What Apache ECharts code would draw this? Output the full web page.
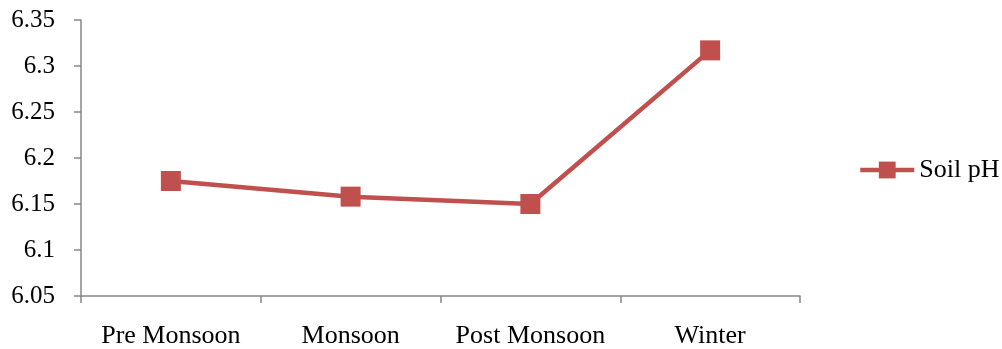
<!DOCTYPE html>
<html>
<head>
<meta charset="utf-8">
<script src="https://cdn.jsdelivr.net/npm/echarts@6/dist/echarts.min.js"></script>
<style>
  html, body { margin: 0; padding: 0; background: #fff; }
  #chart { width: 1002px; height: 349px; }
</style>
</head>
<body>
<div id="chart"></div>
<script>
// Seasonal soil pH
const categories = ['Pre Monsoon', 'Monsoon', 'Post Monsoon', 'Winter'];
const soilPH = [6.175, 6.158, 6.150, 6.317];
const seriesName = 'Soil pH';

const axisColor = '#868686';
const lineColor = '#C0504D';
const fontFamily = '"Liberation Serif", "Times New Roman", serif';

const chart = echarts.init(document.getElementById('chart'));
chart.setOption({
  animation: false,
  textStyle: { fontFamily: fontFamily },
  grid: { left: 81, right: 202, top: 20, bottom: 52, containLabel: false },
  legend: {
    data: [seriesName],
    left: 858,
    top: 157,
    padding: 0,
    itemWidth: 54,
    itemHeight: 21,
    itemGap: 0,
    lineStyle: { width: 4.5 },
    textStyle: { fontFamily: fontFamily, fontSize: 26, color: '#000' }
  },
  xAxis: {
    type: 'category',
    data: categories,
    boundaryGap: true,
    axisLine: { lineStyle: { color: axisColor, width: 1.5 } },
    axisTick: { show: true, interval: 0, alignWithLabel: false, length: 7, lineStyle: { color: axisColor, width: 1.5 } },
    axisLabel: { interval: 0, hideOverlap: false, color: '#000', fontSize: 26, fontFamily: fontFamily, margin: 27 }
  },
  yAxis: {
    type: 'value',
    min: 6.05,
    max: 6.35,
    interval: 0.05,
    splitLine: { show: false },
    axisLine: { show: true, lineStyle: { color: axisColor, width: 1.5 } },
    axisTick: { show: true, length: 7, lineStyle: { color: axisColor, width: 1.5 } },
    axisLabel: {
      color: '#000', fontSize: 25, fontFamily: fontFamily, margin: 26,
      padding: [5, 0, 0, 0],
      formatter: v => String(parseFloat(v.toFixed(2)))
    }
  },
  series: [{
    name: seriesName,
    type: 'line',
    data: soilPH,
    symbol: 'rect',
    symbolSize: 20,
    lineStyle: { color: lineColor, width: 4.5 },
    itemStyle: { color: lineColor, borderWidth: 0 }
  }]
});
</script>
</body>
</html>
